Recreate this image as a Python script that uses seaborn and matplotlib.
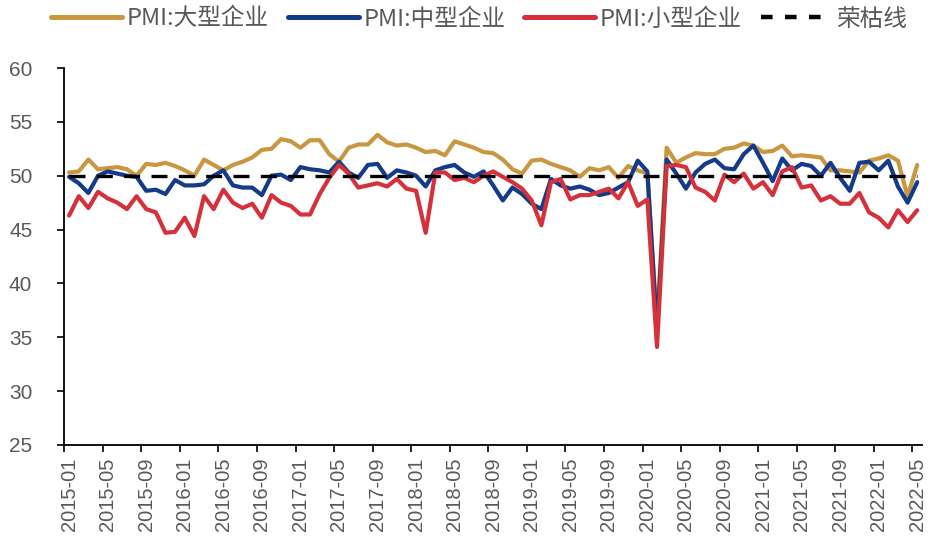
import numpy as np
import pandas as pd
import matplotlib
matplotlib.use("Agg")
import matplotlib.pyplot as plt
import seaborn as sns
from matplotlib.lines import Line2D

months = pd.date_range("2015-01-01", "2022-05-01", freq="MS").strftime("%Y-%m").tolist()

pmi_large = [50.3, 50.4, 51.5, 50.6, 50.7, 50.8, 50.6, 50.0, 51.1, 51.0, 51.2, 50.9,
             50.5, 50.0, 51.5, 51.0, 50.5, 51.0, 51.3, 51.7, 52.4, 52.5, 53.4, 53.2,
             52.6, 53.3, 53.3, 52.0, 51.3, 52.6, 52.9, 52.9, 53.8, 53.1, 52.8, 52.9,
             52.6, 52.2, 52.3, 51.9, 53.2, 52.9, 52.6, 52.2, 52.1, 51.5, 50.6, 50.2,
             51.4, 51.5, 51.1, 50.8, 50.5, 49.9, 50.7, 50.5, 50.8, 49.8, 50.9, 50.5,
             50.2, 36.3, 52.6, 51.2, 51.7, 52.1, 52.0, 52.0, 52.5, 52.6, 53.0, 52.8,
             52.2, 52.3, 52.8, 51.8, 51.9, 51.8, 51.7, 50.5, 50.5, 50.4, 50.3, 51.4,
             51.6, 51.9, 51.4, 48.1, 51.0]

pmi_medium = [49.9, 49.3, 48.4, 50.0, 50.4, 50.2, 50.0, 49.9, 48.6, 48.7, 48.3, 49.6,
              49.1, 49.1, 49.2, 50.0, 50.5, 49.1, 48.9, 48.9, 48.2, 50.0, 50.1, 49.6,
              50.8, 50.6, 50.5, 50.3, 51.3, 50.3, 49.8, 51.0, 51.1, 49.8, 50.5, 50.3,
              50.0, 49.0, 50.5, 50.8, 51.0, 50.3, 49.9, 50.4, 49.1, 47.7, 48.9, 48.3,
              47.4, 46.9, 49.7, 49.1, 48.8, 49.0, 48.7, 48.2, 48.4, 48.9, 49.4, 51.4,
              50.4, 35.5, 51.5, 50.2, 48.8, 50.3, 51.1, 51.5, 50.7, 50.6, 52.0, 52.8,
              51.2, 49.5, 51.6, 50.5, 51.1, 50.9, 50.0, 51.2, 49.8, 48.6, 51.2, 51.3,
              50.5, 51.4, 49.0, 47.5, 49.4]

pmi_small = [46.3, 48.1, 47.0, 48.5, 47.9, 47.5, 46.9, 48.1, 46.9, 46.6, 44.7, 44.8,
             46.1, 44.4, 48.1, 46.9, 48.7, 47.5, 47.0, 47.4, 46.1, 48.2, 47.5, 47.2,
             46.4, 46.4, 48.3, 49.8, 51.0, 50.2, 48.9, 49.1, 49.3, 49.0, 49.7, 48.8,
             48.6, 44.7, 50.3, 50.3, 49.6, 49.8, 49.4, 50.0, 50.4, 49.9, 49.4, 48.8,
             47.7, 45.4, 49.4, 49.7, 47.8, 48.2, 48.2, 48.5, 48.8, 47.9, 49.4, 47.2,
             47.8, 34.1, 50.9, 51.0, 50.8, 48.9, 48.5, 47.7, 50.1, 49.4, 50.2, 48.8,
             49.4, 48.2, 50.4, 50.8, 48.9, 49.1, 47.7, 48.1, 47.4, 47.4, 48.4, 46.6,
             46.1, 45.2, 46.8, 45.7, 46.8]

boom_bust = 50.0
series_names = ["PMI:大型企业", "PMI:中型企业", "PMI:小型企业", "荣枯线"]
colors = ["#C8973F", "#133B8A", "#D5313A", "#000000"]
y_ticks = [25, 30, 35, 40, 45, 50, 55, 60]

sns.set_theme(style="white")
plt.rcParams["font.family"] = ["Liberation Sans", "DejaVu Sans"]

n = len(months)
idx = np.arange(n)
df = pd.DataFrame({"i": idx, "large": pmi_large, "medium": pmi_medium,
                   "small": pmi_small, "line": [boom_bust] * n})

fig = plt.figure(figsize=(9.29, 5.45), dpi=100)
ax = fig.add_axes([0.0692, 0.1835, 0.9233, 0.6917])

lw = 3.0
sns.lineplot(data=df, x="i", y="large", ax=ax, color=colors[0], lw=lw)
sns.lineplot(data=df, x="i", y="medium", ax=ax, color=colors[1], lw=lw)
sns.lineplot(data=df, x="i", y="small", ax=ax, color=colors[2], lw=lw)
sns.lineplot(data=df, x="i", y="line", ax=ax, color=colors[3], lw=2.4,
             linestyle=(0, (4.8, 3.4)))

ax.set_xlim(-0.5, n - 0.5)
ax.set_ylim(25, 60)
ax.set_yticks(y_ticks)
ax.set_yticklabels([str(v) for v in y_ticks])
ax.set_xticks(idx[::4])
ax.set_xticklabels(months[::4], rotation=90)
ax.set_xticks(np.arange(-0.5, n, 4), minor=True)
ax.set_xlabel("")
ax.set_ylabel("")

for s in ["top", "right"]:
    ax.spines[s].set_visible(False)
for s in ["left", "bottom"]:
    ax.spines[s].set_color("black")
    ax.spines[s].set_linewidth(1.3)

ax.tick_params(axis="y", which="major", direction="out", length=5, width=1.2,
               color="black", left=True, labelsize=15, labelcolor="#595959", pad=18)
ax.tick_params(axis="x", which="major", length=0, labelsize=14.5,
               labelcolor="#595959", pad=9)
ax.tick_params(axis="x", which="minor", direction="out", length=5, width=1.2,
               color="black", bottom=True)
ax.grid(False)

handles = [Line2D([], [], color=colors[0], lw=3.6),
           Line2D([], [], color=colors[1], lw=3.6),
           Line2D([], [], color=colors[2], lw=3.6),
           Line2D([], [], color=colors[3], lw=3.2, linestyle=(0, (2.6, 2.8)))]
leg = fig.legend(handles, series_names, loc="center", bbox_to_anchor=(0.516, 0.965),
                 ncol=4, frameon=False, handlelength=3.0,
                 handletextpad=0.2, columnspacing=0.8,
                 prop={"family": ["Noto Sans CJK SC", "DejaVu Sans"], "size": 17})
for t in leg.get_texts():
    t.set_color("#595959")

fig.savefig("out.png", dpi=100)
